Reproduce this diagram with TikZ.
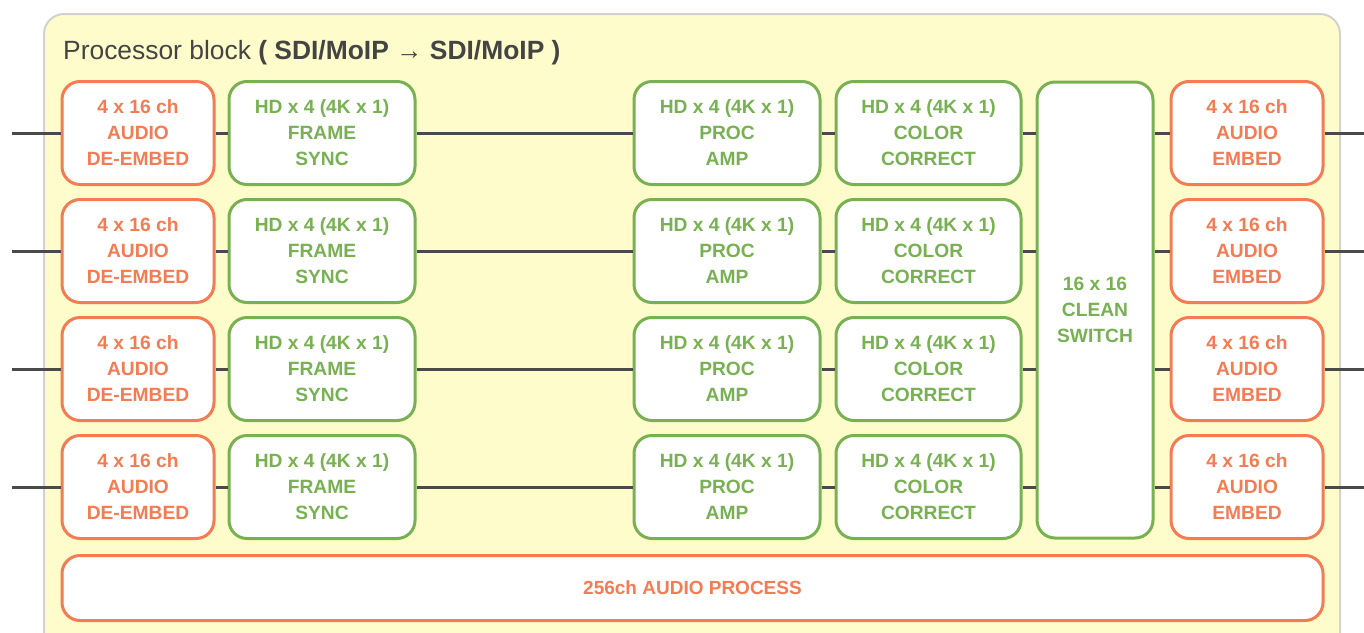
\documentclass[tikz,border=0pt]{standalone}
\usepackage{fontspec}
\setmainfont{Liberation Sans}
\begin{document}
\begin{tikzpicture}[x=1pt,y=-1pt,
  box/.style={draw, line width=3pt, fill=white, rounded corners=18pt, align=center,
    inner sep=0pt, font=\fontsize{19.2}{26}\selectfont\bfseries},
  obox/.style={box, draw=orangeC, text=orangeC, minimum width=152pt, minimum height=103pt},
  gbox/.style={box, draw=greenC, text=greenC, minimum width=186pt, minimum height=103pt},
  wire/.style={draw=wireC, line width=3pt}
]
\definecolor{orangeC}{HTML}{F47B52}
\definecolor{greenC}{HTML}{78B152}
\definecolor{wireC}{HTML}{4A4A4A}
\definecolor{panelC}{HTML}{FFFCCB}
\definecolor{panelB}{HTML}{D2D2D2}
\definecolor{titleC}{HTML}{444444}
\useasboundingbox (0,0) rectangle (1364,632);
\clip (0,0) rectangle (1364,632);
\fill[white] (0,0) rectangle (1364,632);
\draw[fill=panelC, draw=panelB, line width=2pt, rounded corners=20pt] (44,14) rectangle (1340,670);
\node[anchor=base west, text=titleC, font=\fontsize{26.4}{30}\selectfont, inner sep=0pt] (title) at (63,59)
  {Processor block \textbf{( SDI/MoIP} → \textbf{SDI/MoIP )}};
\foreach \i/\y in {1/133,2/251,3/369,4/487}{
  \node[obox] (d\i) at (138,\y) {4 x 16 ch\\AUDIO\\DE-EMBED};
  \node[gbox] (f\i) at (322,\y) {HD x 4 (4K x 1)\\FRAME\\SYNC};
  \node[gbox] (p\i) at (727,\y) {HD x 4 (4K x 1)\\PROC\\AMP};
  \node[gbox, minimum width=185pt] (c\i) at (928.5,\y) {HD x 4 (4K x 1)\\COLOR\\CORRECT};
  \node[obox] (e\i) at (1247,\y) {4 x 16 ch\\AUDIO\\EMBED};
  \coordinate (in\i) at (12,\y);
  \coordinate (out\i) at (1364,\y);
}
\node[box, draw=greenC, text=greenC, minimum width=116pt, minimum height=456pt] (sw) at (1095,310) {16 x 16\\CLEAN\\SWITCH};
\node[box, draw=orangeC, text=orangeC, minimum width=1261pt, minimum height=65pt,
  font=\fontsize{19}{22}\selectfont\bfseries] (ap) at (692.5,588) {256ch AUDIO PROCESS};
\foreach \i in {1,2,3,4}{
  \draw[wire] (in\i) -- (d\i.west);
  \draw[wire] (d\i.east) -- (f\i.west);
  \draw[wire] (f\i.east) -- (p\i.west);
  \draw[wire] (p\i.east) -- (c\i.west);
  \draw[wire] (c\i.east) -- (c\i.east -| sw.west);
  \draw[wire] (e\i.west -| sw.east) -- (e\i.west);
  \draw[wire] (e\i.east) -- (out\i);
}
\end{tikzpicture}
\end{document}
